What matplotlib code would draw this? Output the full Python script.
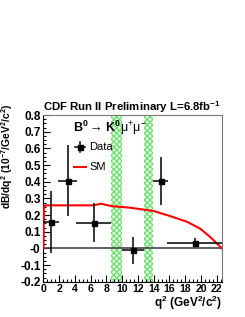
import matplotlib
matplotlib.use("Agg")
import matplotlib.pyplot as plt
from matplotlib.ticker import MultipleLocator, FixedLocator, FixedFormatter
from matplotlib.lines import Line2D

plt.rcParams['font.family'] = ['Liberation Sans', 'DejaVu Sans']
plt.rcParams['mathtext.fontset'] = 'custom'
plt.rcParams['mathtext.rm'] = 'Liberation Sans'
plt.rcParams['mathtext.bf'] = 'Liberation Sans:bold'
plt.rcParams['mathtext.it'] = 'Liberation Sans:italic'
plt.rcParams['hatch.linewidth'] = 0.8

# ---- data ----
q2 = [1.0, 3.1, 6.45, 11.35, 14.9, 19.3]
q2_lo = [0.0, 1.9, 4.15, 10.0, 13.96, 15.74]
q2_hi = [2.0, 4.24, 8.6, 12.75, 15.86, 22.7]
dB = [0.158, 0.407, 0.154, -0.011, 0.403, 0.033]
dB_err = [0.187, 0.211, 0.118, 0.082, 0.145, 0.027]

sm_q2 = [0.02, 0.08, 0.3, 2.0, 4.0, 6.4, 7.3, 8.7, 11.0, 14.0, 16.0, 18.2, 19.9, 21.15, 22.0, 22.65]
sm_dB = [0.0, 0.25, 0.258, 0.258, 0.258, 0.258, 0.268, 0.253, 0.244, 0.224, 0.195, 0.16, 0.118, 0.069, 0.03, 0.0]

veto_bands = [(8.6, 9.95), (12.8, 13.96)]

yticks = [-0.2, -0.1, 0.0, 0.1, 0.2, 0.3, 0.4, 0.5, 0.6, 0.7, 0.8]
ytick_labels = ['-0.2', '-0.1', '-0', '0.1', '0.2', '0.3', '0.4', '0.5', '0.6', '0.7', '0.8']
xticks = [0, 2, 4, 6, 8, 10, 12, 14, 16, 18, 20, 22]

W, H = 245, 317
fig = plt.figure(figsize=(W / 100, H / 100), dpi=100)
L, R, T, B = 43.3, 222.3, 115.0, 281.7
ax = fig.add_axes([L / W, 1 - B / H, (R - L) / W, (B - T) / H])
ax.set_xlim(0, 22.7)
ax.set_ylim(-0.2, 0.8)

for lo, hi in veto_bands:
    ax.axvspan(lo, hi, facecolor='#e6fae6', edgecolor='#66dd66', hatch='xxxxxx', lw=0, zorder=1)

ax.axhline(0, color='#444444', lw=1.2, zorder=2)
ax.plot(sm_q2, sm_dB, color='red', lw=1.5, zorder=3)

xerr = [[x - lo for x, lo in zip(q2, q2_lo)], [hi - x for x, hi in zip(q2, q2_hi)]]
ax.errorbar(q2, dB, xerr=xerr, yerr=dB_err, fmt='s', color='black', ms=3.6,
            elinewidth=1.1, capsize=0, zorder=4)

# legend-like annotations
ax.text(0.164, 0.922, r'$\mathbf{B^0}$$\rightarrow$$\,$$\mathbf{K^0}$μ$^{+}$μ$^{-}$',
        transform=ax.transAxes, fontsize=9, va='center', ha='left')
ax.add_line(Line2D([0.177, 0.233], [0.81, 0.81], transform=ax.transAxes, color='black', lw=1.1))
ax.add_line(Line2D([0.205, 0.205], [0.78, 0.84], transform=ax.transAxes, color='black', lw=1.1))
ax.add_line(Line2D([0.205], [0.81], transform=ax.transAxes, color='black', marker='s', ms=3.6))
ax.text(0.257, 0.81, 'Data', transform=ax.transAxes, fontsize=8, va='center', ha='left')
ax.add_line(Line2D([0.172, 0.239], [0.69, 0.69], transform=ax.transAxes, color='red', lw=1.5))
ax.text(0.257, 0.69, 'SM', transform=ax.transAxes, fontsize=8, va='center', ha='left')

# axes styling
for s in ax.spines.values():
    s.set_color('#777777')
    s.set_linewidth(0.8)
ax.spines['left'].set_color('black')
ax.spines['bottom'].set_color('black')
ax.xaxis.set_major_locator(FixedLocator(xticks))
ax.xaxis.set_minor_locator(MultipleLocator(0.5))
ax.yaxis.set_major_locator(FixedLocator(yticks))
ax.yaxis.set_major_formatter(FixedFormatter(ytick_labels))
ax.yaxis.set_minor_locator(MultipleLocator(0.025))
ax.tick_params(which='both', direction='in', top=False, right=False, width=0.8)
ax.tick_params(which='major', length=5)
ax.tick_params(axis='y', which='major', pad=2, labelsize=8.5)
ax.tick_params(axis='x', which='major', pad=2, labelsize=7.6)
ax.tick_params(which='minor', length=2.5)
for lab in ax.get_xticklabels() + ax.get_yticklabels():
    lab.set_fontweight('bold')

fig.text(43 / W, 1 - 111 / H, r'CDF Run II Preliminary L=6.8fb$^{\mathbf{-1}}$',
         fontsize=8.2, fontweight='bold', ha='left', va='baseline')
fig.text(222 / W, 1 - 303 / H, r'q$^{\mathbf{2}}$ (GeV$^{\mathbf{2}}$/c$^{\mathbf{2}}$)',
         fontsize=8.5, fontweight='bold', ha='right', va='center')
fig.text(7 / W, 1 - 104 / H, r'dB/dq$^{\mathbf{2}}$ (10$^{\mathbf{-7}}$/GeV$^{\mathbf{2}}$/c$^{\mathbf{2}}$)',
         fontsize=7.4, fontweight='bold', ha='center', va='top', rotation=90)

fig.savefig('out.png', dpi=100)
